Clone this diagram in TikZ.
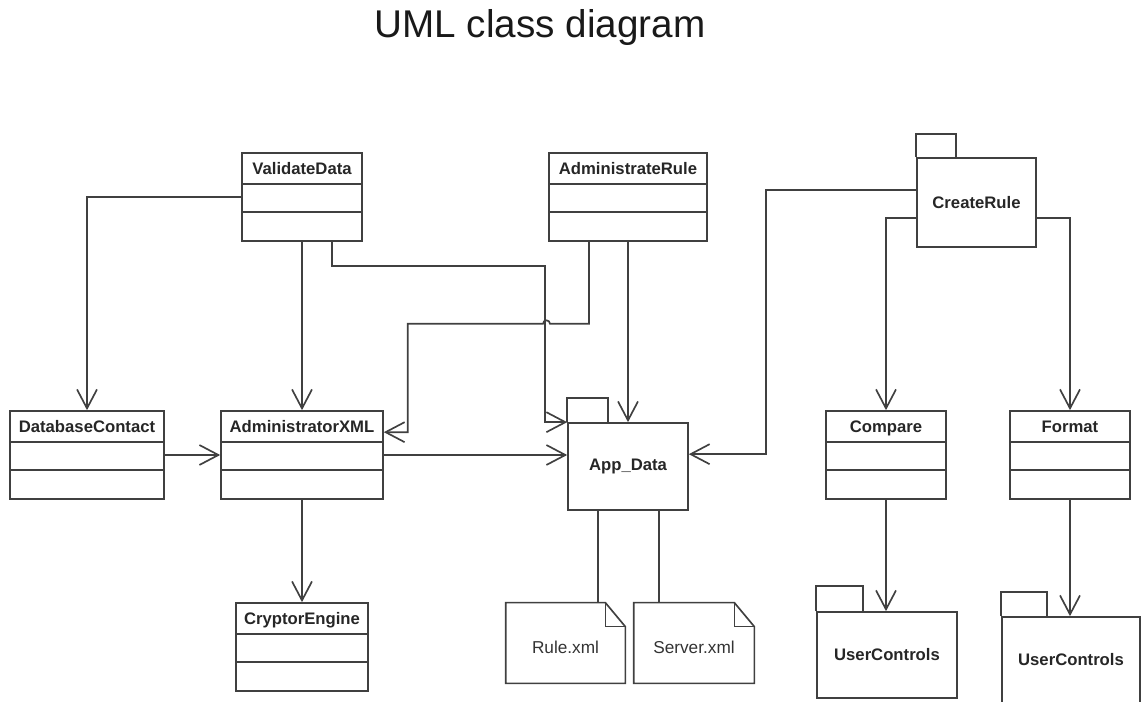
\documentclass[tikz,border=0pt]{standalone}
\usepackage{fontspec}
\setmainfont{Liberation Sans}
\usetikzlibrary{arrows.meta,calc}

\tikzset{
  wire/.style={draw=black!75, line width=0.95pt},
  assoc/.style={wire, -{Straight Barb[length=3.8mm,width=4mm]}},
  classbox/.style={wire, inner xsep=2pt, inner ysep=0pt, text height=0.42cm, text depth=1.34cm,
    text=black!85, font=\bfseries\fontsize{9.5}{11}\selectfont},
  pkgbox/.style={wire, inner sep=0pt, text=black!85, font=\bfseries\fontsize{9.5}{11}\selectfont},
  notebox/.style={inner sep=0pt, text height=1.02cm, text depth=0.58cm, text=black!80,
    font=\fontsize{9.8}{12}\selectfont},
}

\begin{document}
\begin{tikzpicture}[x=0.02cm, y=-0.02cm]
\useasboundingbox (0,0) rectangle (1143,702);

\node[font=\fontsize{22}{26}\selectfont, text=black!90, anchor=base] (title) at (540,38) {UML class diagram};

% classes
\node[classbox, minimum width=2.4cm]  (vdata) at (302,197)  {ValidateData};
\node[classbox, minimum width=3.16cm] (arule) at (628,197)  {AdministrateRule};
\node[classbox, minimum width=3.08cm] (dbc)   at (87,455)   {DatabaseContact};
\node[classbox, minimum width=3.24cm] (axml)  at (302,455)  {AdministratorXML};
\node[classbox, minimum width=2.64cm] (crypt) at (302,647)  {CryptorEngine};
\node[classbox, minimum width=2.4cm]  (cmp)   at (886,455)  {Compare};
\node[classbox, minimum width=2.4cm]  (fmt)   at (1070,455) {Format};

\foreach \cls in {vdata,arule,dbc,axml,crypt,cmp,fmt} {
  \draw[wire] ($(\cls.north west)+(0,32)$) -- ($(\cls.north east)+(0,32)$);
  \draw[wire] ($(\cls.north west)+(0,60)$) -- ($(\cls.north east)+(0,60)$);
}

% packages
\node[pkgbox, minimum width=2.4cm,  minimum height=1.74cm] (appdata) at (628,466.5)   {App\_Data};
\node[pkgbox, minimum width=2.38cm, minimum height=1.78cm] (crule)   at (976.5,202.5) {CreateRule};
\node[pkgbox, minimum width=2.8cm,  minimum height=1.72cm] (uc1)     at (887,655)     {UserControls};
\node[pkgbox, minimum width=2.76cm, minimum height=1.72cm] (uc2)     at (1071,660)    {UserControls};

\foreach \p/\w/\h in {appdata/41/24, crule/40/23, uc1/47/25, uc2/46/24}
  \draw[wire] (\p.north west) -- ++(0,-\h) -- ++(\w,0) -- ++(0,\h);

% xml files
\node[notebox, minimum width=2.38cm] (rulex)   at (565.5,643) {Rule.xml};
\node[notebox, minimum width=2.4cm]  (serverx) at (694,643)   {Server.xml};

\foreach \n in {rulex,serverx} {
  \draw[wire] (\n.north west) -- ($(\n.north east)+(-20,0)$) -- ($(\n.north east)+(0,24)$) |- (\n.south west) -- cycle;
  \draw[wire] ($(\n.north east)+(-20,0)$) -- ++(0,24) -- ++(20,0);
}

% end points
\coordinate (vd-left)  at ($(vdata.north west)+(0,45)$);
\coordinate (vd-out)   at ($(vdata.south)+(30,0)$);
\coordinate (ar-out)   at ($(arule.south)+(-39,0)$);
\coordinate (ax-in)    at ($(axml.north east)+(0,22)$);
\coordinate (ar-bend)  at ($(ax-in)+(24,0)$);
\coordinate (ad-right) at ($(appdata.north east)+(0,32)$);
\coordinate (cr-left1) at ($(crule.north west)+(0,33)$);
\coordinate (cr-left2) at ($(crule.north west)+(0,61)$);
\coordinate (cr-right) at ($(crule.north east)+(0,61)$);
\coordinate (ad-l)     at ($(appdata.south)+(-30,0)$);
\coordinate (ad-r)     at ($(appdata.south)+(31,0)$);

% connectors
\draw[assoc] (vd-left) -| (dbc.north);
\draw[assoc] (vdata.south) -- (axml.north);
\draw[assoc] (vd-out) -- ++(0,24) -| ($(appdata.north west)+(-22,0)$) -- (appdata.north west);
\draw[assoc] (ar-out) -- ++(0,82) -- ++(-39,0) arc[start angle=0, end angle=180, radius=0.07cm] -| (ar-bend) -- (ax-in);
\draw[assoc] (arule.south) -- (arule.south |- appdata.north);
\draw[assoc] (dbc.east) -- (axml.west);
\draw[assoc] (axml.east) -- (appdata.west |- axml.east);
\draw[assoc] (axml.south) -- (crypt.north);
\draw[assoc] (cr-left1) -- ++(-150,0) |- (ad-right);
\draw[assoc] (cr-left2) -| (cmp.north);
\draw[assoc] (cr-right) -| (fmt.north);
\draw[assoc] (cmp.south) -- (cmp.south |- uc1.north);
\draw[assoc] (fmt.south) -- (fmt.south |- uc2.north);
\draw[wire] (ad-l) -- (ad-l |- rulex.north);
\draw[wire] (ad-r) -- (ad-r |- serverx.north);

\end{tikzpicture}
\end{document}
